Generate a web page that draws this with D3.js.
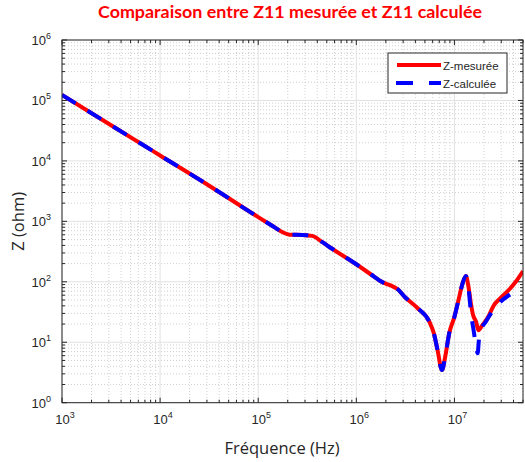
<!DOCTYPE html>
<html><head><meta charset="utf-8">
<script src="https://cdn.jsdelivr.net/npm/d3@7"></script>
<style>
body{margin:0;background:#fff;}
svg{display:block;}
</style></head>
<body>
<svg id="chart" width="525" height="462"></svg>
<script>
// ---------- data ----------
const title = "Comparaison entre Z11 mesurée et Z11 calculée";
const xLabel = "Fréquence (Hz)";
const yLabel = "Z (ohm)";
const seriesNames = ["Z-mesurée", "Z-calculée"];
const xTickExponents = [3, 4, 5, 6, 7];
const yTickExponents = [0, 1, 2, 3, 4, 5, 6];

const freqMeasured = [1000, 3162, 10000, 31623, 100000, 141254, 177828, 208930, 281838, 354813, 446684, 562341,
  1.0e6, 1.413e6, 1.862e6, 2.239e6, 2.63e6, 3.162e6, 4.169e6, 5.546e6, 6.166e6, 6.73e6, 7.464e6, 8.054e6, 8.851e6,
  1.0e7, 1.119e7, 1.211e7, 1.309e7, 1.39e7, 1.472e7, 1.549e7, 1.66e7, 1.758e7, 1.932e7, 2.173e7, 2.541e7, 2.858e7,
  3.467e7, 4.217e7, 5.012e7];
const zMeasured = [123000, 38900, 12300, 3890, 1175, 832, 661, 603, 596, 575, 457, 355,
  195, 132, 97.7, 87.1, 75.9, 55.0, 37.2, 21.9, 14.1, 7.41, 3.47, 5.75, 14.1,
  26.3, 56.2, 94.4, 124.5, 83.2, 43.7, 28.2, 21.9, 15.8, 19.3, 25.1, 41.7, 51.3,
  69.2, 100, 151];

const freqCalc = [1000, 3162, 10000, 31623, 100000, 141254, 177828, 208930, 281838, 354813, 446684, 562341,
  1.0e6, 1.413e6, 1.862e6, 2.239e6, 2.63e6, 3.162e6, 4.169e6, 5.546e6, 6.166e6, 6.73e6, 7.464e6, 8.054e6, 8.851e6,
  1.0e7, 1.119e7, 1.211e7, 1.309e7, 1.39e7, 1.472e7, 1.585e7, 1.66e7, 1.726e7, 1.778e7, 1.862e7, 2.089e7, 2.754e7, 3.69e7];
const zCalc = [123000, 38900, 12300, 3890, 1175, 832, 661, 603, 596, 575, 457, 355,
  195, 132, 97.7, 87.1, 75.9, 55.0, 37.2, 21.9, 14.1, 7.41, 3.47, 5.75, 14.1,
  26.3, 56.2, 94.4, 124.5, 79.4, 31.6, 14.1, 8.5, 6.6, 11.2, 15.8, 21.9, 41.7, 61.7];

// ---------- layout ----------
const svg = d3.select("#chart");
const L = 62, R = 523, T = 40, B = 402.7;
const x = d3.scaleLog().domain([1e3, 5e7]).range([L, R]);
const y = d3.scaleLog().domain([1, 1e6]).range([B, T]);
const axisColor = "#262626";
const fontTick = "'Liberation Sans', Arial, sans-serif";

// minor tick values
const xMinor = [], yMinor = [];
for (let e = 3; e <= 7; e++) for (let k = 2; k <= 9; k++) { const v = k * Math.pow(10, e); if (v <= 5e7) xMinor.push(v); }
for (let e = 0; e <= 5; e++) for (let k = 2; k <= 9; k++) yMinor.push(k * Math.pow(10, e));
const xMajor = xTickExponents.map(e => Math.pow(10, e));
const yMajor = yTickExponents.map(e => Math.pow(10, e));

const g = svg.append("g");

// grid minor (dotted)
g.selectAll(".gxm").data(xMinor).enter().append("line")
  .attr("x1", d => x(d)).attr("x2", d => x(d)).attr("y1", T).attr("y2", B)
  .attr("stroke", "#c4c4c4").attr("stroke-width", 0.8).attr("stroke-dasharray", "1,2");
g.selectAll(".gym").data(yMinor).enter().append("line")
  .attr("y1", d => y(d)).attr("y2", d => y(d)).attr("x1", L).attr("x2", R)
  .attr("stroke", "#c4c4c4").attr("stroke-width", 0.8).attr("stroke-dasharray", "1,2");
// grid major (solid)
g.selectAll(".gxM").data(xMajor).enter().append("line")
  .attr("x1", d => x(d)).attr("x2", d => x(d)).attr("y1", T).attr("y2", B)
  .attr("stroke", "#e2e2e2").attr("stroke-width", 1);
g.selectAll(".gyM").data(yMajor).enter().append("line")
  .attr("y1", d => y(d)).attr("y2", d => y(d)).attr("x1", L).attr("x2", R)
  .attr("stroke", "#e2e2e2").attr("stroke-width", 1);

// lines
const line = d3.line().x(d => x(d[0])).y(d => y(d[1])).curve(d3.curveMonotoneX);
const measured = freqMeasured.map((f, i) => [f, zMeasured[i]]);
const calc = freqCalc.map((f, i) => [f, zCalc[i]]);
svg.append("clipPath").attr("id", "clip").append("rect")
  .attr("x", L).attr("y", T).attr("width", R - L).attr("height", B - T);
const lg = svg.append("g").attr("clip-path", "url(#clip)");
lg.append("path").datum(measured).attr("d", line).attr("fill", "none")
  .attr("stroke", "#ff0000").attr("stroke-width", 4).attr("stroke-linejoin", "round");
lg.append("path").datum(calc).attr("d", line).attr("fill", "none")
  .attr("stroke", "#0000ff").attr("stroke-width", 4).attr("stroke-dasharray", "16,14");

// box
svg.append("rect").attr("x", L).attr("y", T).attr("width", R - L).attr("height", B - T)
  .attr("fill", "none").attr("stroke", axisColor).attr("stroke-width", 1);

// ticks (inward, all four sides)
const tk = svg.append("g").attr("stroke", axisColor).attr("stroke-width", 1);
function xTicks(vals, len) {
  vals.forEach(v => {
    tk.append("line").attr("x1", x(v)).attr("x2", x(v)).attr("y1", B).attr("y2", B - len);
    tk.append("line").attr("x1", x(v)).attr("x2", x(v)).attr("y1", T).attr("y2", T + len);
  });
}
function yTicks(vals, len) {
  vals.forEach(v => {
    tk.append("line").attr("y1", y(v)).attr("y2", y(v)).attr("x1", L).attr("x2", L + len);
    tk.append("line").attr("y1", y(v)).attr("y2", y(v)).attr("x1", R).attr("x2", R - len);
  });
}
xTicks(xMajor, 5); xTicks(xMinor, 3);
yTicks(yMajor, 5); yTicks(yMinor, 3);

// tick labels
xTickExponents.forEach(e => {
  const t = svg.append("text").attr("x", x(Math.pow(10, e)) + 3).attr("y", 424)
    .attr("text-anchor", "middle").attr("fill", axisColor)
    .style("font-family", fontTick).style("font-size", "13px");
  t.append("tspan").text("10");
  t.append("tspan").attr("dy", -6).style("font-size", "9px").text(e);
});
yTickExponents.forEach(e => {
  const t = svg.append("text").attr("x", 51).attr("y", y(Math.pow(10, e)) + 5)
    .attr("text-anchor", "end").attr("fill", axisColor)
    .style("font-family", fontTick).style("font-size", "13px");
  t.append("tspan").text("10");
  t.append("tspan").attr("dy", -6).style("font-size", "9px").text(e);
});

// axis labels
svg.append("text").attr("x", 282).attr("y", 454).attr("text-anchor", "middle")
  .attr("fill", axisColor).style("font-family", "'Open Sans', sans-serif").style("font-size", "16.5px").text(xLabel);
svg.append("text").attr("transform", "translate(24," + (T + B) / 2 + ") rotate(-90)")
  .attr("text-anchor", "middle").attr("fill", axisColor)
  .style("font-family", "'Open Sans', sans-serif").style("font-size", "16.5px").text(yLabel);

// title
svg.append("text").attr("x", 290).attr("y", 18).attr("text-anchor", "middle")
  .attr("fill", "#ff0000").style("font-family", "Lato, sans-serif").style("font-weight", "bold")
  .style("font-size", "17.5px").attr("textLength", 384).attr("lengthAdjust", "spacingAndGlyphs").text(title);

// legend
const lgd = svg.append("g");
lgd.append("rect").attr("x", 388).attr("y", 53).attr("width", 119).attr("height", 40)
  .attr("fill", "#fff").attr("stroke", axisColor).attr("stroke-width", 1);
lgd.append("line").attr("x1", 397).attr("x2", 441).attr("y1", 65).attr("y2", 65)
  .attr("stroke", "#ff0000").attr("stroke-width", 4);
lgd.append("line").attr("x1", 396).attr("x2", 441).attr("y1", 83).attr("y2", 83)
  .attr("stroke", "#0000ff").attr("stroke-width", 4).attr("stroke-dasharray", "17,16");
lgd.append("text").attr("x", 443).attr("y", 69.5).attr("fill", axisColor)
  .style("font-family", fontTick).style("font-size", "11.5px").text(seriesNames[0]);
lgd.append("text").attr("x", 443).attr("y", 87.5).attr("fill", axisColor)
  .style("font-family", fontTick).style("font-size", "11.5px").text(seriesNames[1]);
</script>
</body></html>
